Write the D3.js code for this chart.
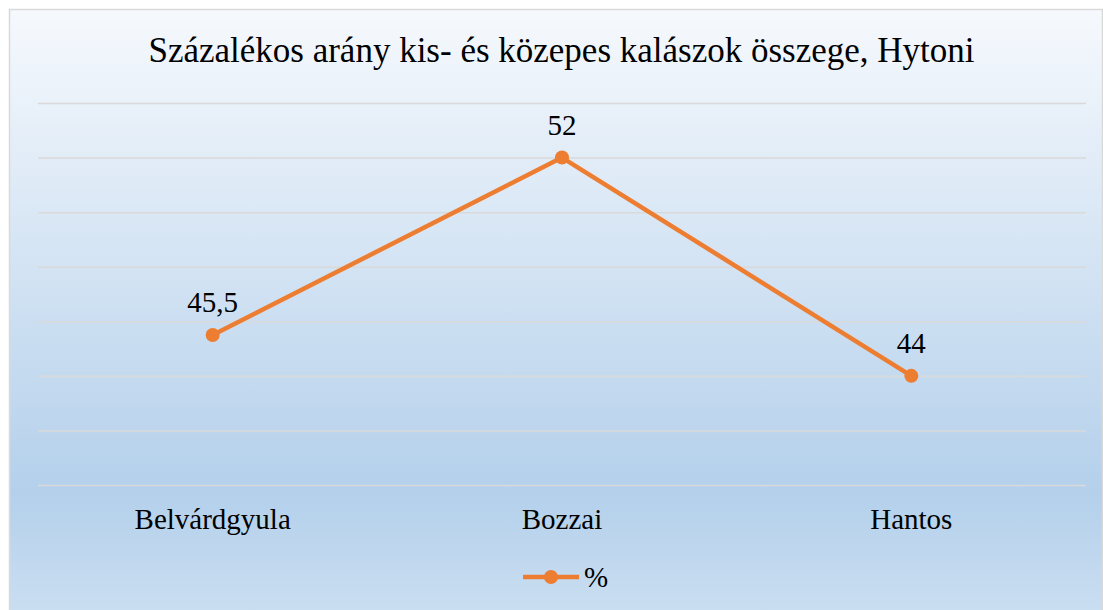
<!DOCTYPE html>
<html>
<head>
<meta charset="UTF-8">
<title>Hytoni</title>
<script src="https://d3js.org/d3.v7.min.js"></script>
<style>
  body { margin: 0; background: #fff; }
  .grid line { stroke: #d9d9d9; stroke-width: 1.5; }
  .grid path { display: none; }
</style>
</head>
<body>
<svg width="1103" height="610"></svg>
<script>
// chart data
const categories = ["Belvárdgyula", "Bozzai", "Hantos"];
const values = [45.5, 52, 44];
const valueLabels = ["45,5", "52", "44"];
const seriesName = "%";
const title = "Százalékos arány kis- és közepes kalászok összege, Hytoni";

const svg = d3.select("svg");
const W = 1103, H = 610;
const plot = { left: 38, right: 1086, top: 103, bottom: 485 };
const serif = "'Liberation Serif', serif";

// background gradient
const defs = svg.append("defs");
const grad = defs.append("linearGradient")
  .attr("id", "bg").attr("x1", 0).attr("y1", 0).attr("x2", 0).attr("y2", 1);
grad.append("stop").attr("offset", "0%").attr("stop-color", "#f6f9fd");
grad.append("stop").attr("offset", "78%").attr("stop-color", "#b4d0eb");
grad.append("stop").attr("offset", "100%").attr("stop-color", "#cde0f2");

svg.append("rect")
  .attr("x", 9.5).attr("y", 9.5)
  .attr("width", W - 10).attr("height", H + 10)
  .attr("fill", "url(#bg)")
  .attr("stroke", "#d9d9d9").attr("stroke-width", 1.5);

const x = d3.scaleBand().domain(categories).range([plot.left, plot.right]);
const y = d3.scaleLinear().domain([40, 54]).range([plot.bottom, plot.top]);

// gridlines
svg.append("g")
  .attr("class", "grid")
  .attr("transform", `translate(${plot.left},0)`)
  .call(d3.axisLeft(y).tickValues(d3.range(40, 55, 2))
    .tickSize(-(plot.right - plot.left)).tickFormat(""));

// title
svg.append("text")
  .attr("x", 561.5)
  .attr("y", 62)
  .attr("text-anchor", "middle")
  .style("font-family", serif)
  .style("font-size", "35px")
  .attr("fill", "#000")
  .text(title);

// category labels
svg.append("g").selectAll("text")
  .data(categories)
  .join("text")
  .attr("x", d => x(d) + x.bandwidth() / 2)
  .attr("y", 529)
  .attr("text-anchor", "middle")
  .style("font-family", serif)
  .style("font-size", "29px")
  .text(d => d);

const pts = categories.map((c, i) => ({ c, v: values[i], label: valueLabels[i] }));

// series line
const line = d3.line()
  .x(d => x(d.c) + x.bandwidth() / 2)
  .y(d => y(d.v));

svg.append("path")
  .datum(pts)
  .attr("d", line)
  .attr("fill", "none")
  .attr("stroke", "#ed7d31")
  .attr("stroke-width", 4.5)
  .attr("stroke-linejoin", "round");

svg.append("g").selectAll("circle")
  .data(pts)
  .join("circle")
  .attr("cx", d => x(d.c) + x.bandwidth() / 2)
  .attr("cy", d => y(d.v))
  .attr("r", 7)
  .attr("fill", "#ed7d31");

// data labels
svg.append("g").selectAll("text")
  .data(pts)
  .join("text")
  .attr("x", d => x(d.c) + x.bandwidth() / 2)
  .attr("y", d => y(d.v) - 23)
  .attr("text-anchor", "middle")
  .style("font-family", serif)
  .style("font-size", "29px")
  .text(d => d.label);

// legend
const lg = svg.append("g").attr("transform", "translate(523,577)");
lg.append("line")
  .attr("x1", 0).attr("x2", 56)
  .attr("stroke", "#ed7d31").attr("stroke-width", 4.5);
lg.append("circle").attr("cx", 28).attr("r", 7).attr("fill", "#ed7d31");
lg.append("text")
  .attr("x", 61).attr("y", 10)
  .style("font-family", serif)
  .style("font-size", "29px")
  .text(seriesName);
</script>
</body>
</html>
